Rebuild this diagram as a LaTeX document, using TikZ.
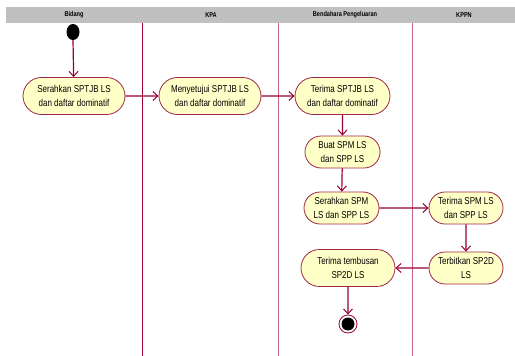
\documentclass[tikz,border=0pt]{standalone}
\usepackage{fontspec}
\setmainfont{Liberation Sans}[FakeStretch=0.8]
\usetikzlibrary{shapes.misc,arrows.meta}
\definecolor{flow}{HTML}{990033}
\definecolor{lanedark}{HTML}{A0003A}
\definecolor{lanepink}{HTML}{C8648A}
\definecolor{actfill}{HTML}{FFFFC8}
\definecolor{actdraw}{HTML}{A02848}
\definecolor{headgray}{HTML}{C0C0C0}
\tikzset{
  act/.style={rounded rectangle, draw=actdraw, fill=actfill, line width=0.8pt,
    align=center, font=\fontsize{10}{14}\selectfont, inner sep=1pt},
  flowline/.style={draw=flow, line width=1.2pt, -{Straight Barb[length=5pt,width=9pt,line width=1pt]}},
  headtxt/.style={font=\fontsize{7}{8}\selectfont\bfseries}
}
\begin{document}
\begin{tikzpicture}[x=1pt,y=-1pt]
\useasboundingbox (0,0) rectangle (515,356);
\fill[white] (0,0) rectangle (515,356);
% header
\fill[headgray] (6,7) rectangle (515,23);
\node[headtxt] (h1) at (74,15) {Bidang};
\node[headtxt] (h2) at (211,15) {KPA};
\node[headtxt] (h3) at (345,15) {Bendahara Pengeluaran};
\node[headtxt] (h4) at (464,15) {KPPN};
% lane lines
\draw[lanedark, line width=1pt] (142,23) -- (142,356);
\draw[lanepink, line width=1pt] (278,23) -- (278,356);
\draw[lanepink, line width=1pt] (412,23) -- (412,356);
% nodes
\fill[black] (73,32) ellipse (6.5 and 8);
\coordinate (start) at (73,40);
\node[act, minimum width=104, minimum height=37] (a1) at (74,96) {Serahkan SPTJB LS\\dan daftar dominatif};
\node[act, minimum width=104, minimum height=37] (a2) at (210,96) {Menyetujui SPTJB LS\\dan daftar dominatif};
\node[act, minimum width=97, minimum height=37] (a3) at (342.5,96) {Terima SPTJB LS\\dan daftar dominatif};
\node[act, minimum width=77, minimum height=32] (a4) at (342.5,152) {Buat SPM LS\\dan SPP LS};
\node[act, minimum width=77, minimum height=32] (a5) at (341.5,208) {Serahkan SPM\\LS dan SPP LS};
\node[act, minimum width=76, minimum height=32] (a6) at (466,208) {Terima SPM LS\\dan SPP LS};
\node[act, minimum width=76, minimum height=32] (a7) at (466,268) {Terbitkan SP2D\\LS};
\node[act, minimum width=96, minimum height=37] (a8) at (348,268) {Terima tembusan\\SP2D LS};
\node[circle, draw=flow, line width=0.8pt, fill=white, inner sep=0, minimum size=18] (endring) at (348,324) {};
\node[circle, fill=black, inner sep=0, minimum size=13] (end) at (348,324) {};
% flows
\draw[flowline] (start) -- (a1);
\draw[flowline] (a1) -- (a2);
\draw[flowline] (a2) -- (a3);
\draw[flowline] (a3) -- (a4);
\draw[flowline] (a4) -- (a5);
\draw[flowline] (a5) -- (a6);
\draw[flowline] (a6) -- (a7);
\draw[flowline] (a7) -- (a8);
\draw[flowline] (a8) -- (endring);
\end{tikzpicture}
\end{document}
